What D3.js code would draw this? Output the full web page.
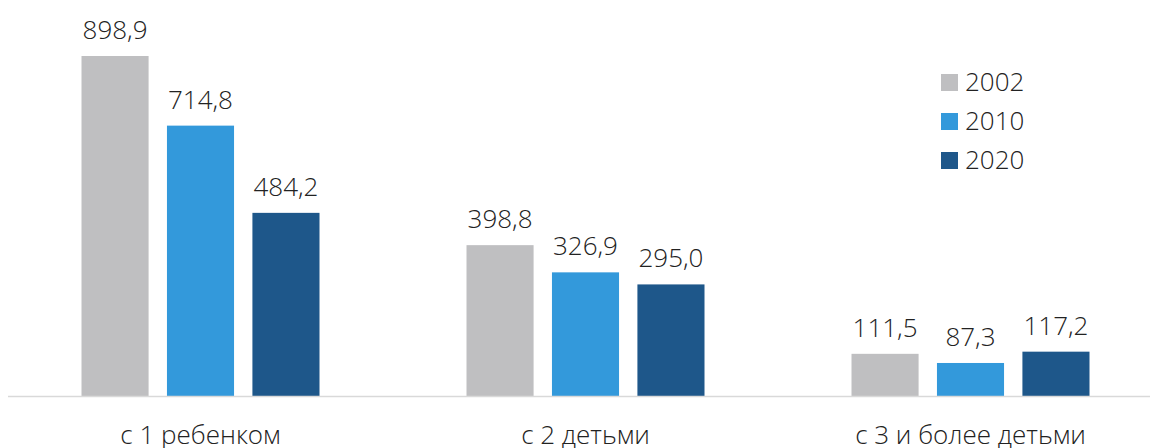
<!DOCTYPE html>
<html>
<head>
<meta charset="utf-8">
<script src="https://cdn.jsdelivr.net/npm/d3@7"></script>
<style>
  body { margin: 0; background: #fff; }
  text { font-family: "Open Sans", sans-serif; font-weight: 300; fill: #222; }
</style>
</head>
<body>
<div id="chart"></div>
<script>
const categories = ["с 1 ребенком", "с 2 детьми", "с 3 и более детьми"];
const years = ["2002", "2010", "2020"];
const values2002 = [898.9, 398.8, 111.5];
const values2010 = [714.8, 326.9, 87.3];
const values2020 = [484.2, 295.0, 117.2];
const colors = ["#bfbfc1", "#3399db", "#1e578a"];

const width = 1150, height = 448;
const baseY = 396;

const svg = d3.select("#chart").append("svg")
    .attr("width", width)
    .attr("height", height);

const series = [values2002, values2010, values2020];
const rows = [];
categories.forEach((c, i) => {
    years.forEach((y, j) => rows.push({ cat: c, year: y, value: series[j][i], k: j }));
});

const x0 = d3.scaleBand()
    .domain(categories)
    .range([8, 1163])
    .paddingInner(0)
    .paddingOuter(0);

const x1 = d3.scaleBand()
    .domain(years)
    .range([73.5, x0.bandwidth() - 73.5])
    .paddingInner(0.215)
    .paddingOuter(0);

const y = d3.scaleLinear()
    .domain([0, 898.9])
    .range([baseY, 56]);

const fmt = v => d3.format(".1f")(v).replace(".", ",");

const bars = svg.append("g");
bars.selectAll("rect")
    .data(rows)
    .enter().append("rect")
    .attr("x", d => x0(d.cat) + x1(d.year))
    .attr("y", d => y(d.value))
    .attr("width", x1.bandwidth())
    .attr("height", d => baseY - y(d.value))
    .attr("fill", d => colors[d.k]);

bars.selectAll("text")
    .data(rows)
    .enter().append("text")
    .attr("x", d => x0(d.cat) + x1(d.year) + x1.bandwidth() / 2)
    .attr("y", d => y(d.value) - 17)
    .attr("text-anchor", "middle")
    .style("font-size", "26px")
    .text(d => fmt(d.value));

// x axis line
svg.append("line")
    .attr("x1", 8)
    .attr("x2", width)
    .attr("y1", baseY + 0.5)
    .attr("y2", baseY + 0.5)
    .attr("stroke", "#d9d9d9")
    .attr("stroke-width", 1.5);

svg.append("g").selectAll("text")
    .data(categories)
    .enter().append("text")
    .attr("x", d => x0(d) + x0.bandwidth() / 2)
    .attr("y", 444)
    .attr("text-anchor", "middle")
    .style("font-size", "26px")
    .text(d => d);

// legend
const legend = svg.append("g")
    .attr("transform", "translate(941,74)");

const item = legend.selectAll("g")
    .data(years)
    .enter().append("g")
    .attr("transform", (d, i) => `translate(0,${i * 39})`);

item.append("rect")
    .attr("width", 17)
    .attr("height", 17)
    .attr("fill", (d, i) => colors[i]);

item.append("text")
    .attr("x", 24)
    .attr("y", 17)
    .style("font-size", "26px")
    .text(d => d);
</script>
</body>
</html>
